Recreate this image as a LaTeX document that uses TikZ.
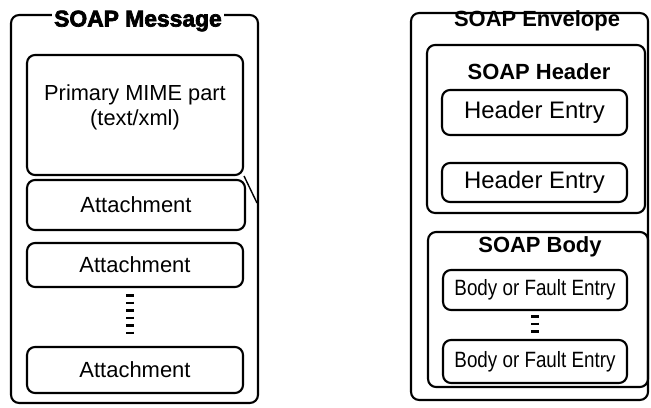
\documentclass[tikz,border=0pt]{standalone}
\usepackage{fontspec}
\setmainfont{Liberation Sans}
\newfontfamily\narrowfont[FakeStretch=0.85]{Liberation Sans}
\newfontfamily\heavyfont[FakeBold=3]{Liberation Sans}
\begin{document}
\begin{tikzpicture}[x=0.02cm,y=-0.02cm,
  box/.style={draw,line width=1.2pt,rounded corners=0.16cm,inner sep=0pt},
  entry/.style={box,font=\fontsize{12.5}{14}\selectfont},
  hentry/.style={box,font=\fontsize{13.6}{15}\selectfont,minimum width=3.7cm},
  bentry/.style={box,font=\narrowfont\fontsize{12.6}{15}\selectfont,minimum width=3.68cm},
  hd/.style={font=\fontsize{12.5}{14}\selectfont\bfseries,inner sep=0pt},
  more/.style={line width=0.16cm,dash pattern=on 0.05cm off 0.1cm,shorten <=0.12cm,shorten >=0.22cm}]
\useasboundingbox (0,0) rectangle (651,408);
\node[box,minimum width=4.94cm,minimum height=7.76cm] (msg) at (134.5,209) {};
\node[fill=white,inner sep=1pt,font=\heavyfont\fontsize{13}{14}\selectfont\bfseries] (msgtitle) at (138,21) {SOAP Message};
\node[entry,minimum width=4.32cm,minimum height=2.4cm] (mime) at (135,115) {};
\node[align=center,font=\fontsize{12.4}{14.5}\selectfont] (mimetext) at ([yshift=0.15cm]mime.center) {Primary MIME part\\(text/xml)};
\node[entry,minimum width=4.36cm,minimum height=1cm] (att1) at (136,205) {Attachment};
\node[entry,minimum width=4.32cm,minimum height=0.88cm] (att2) at (135,265) {Attachment};
\node[entry,minimum width=4.32cm,minimum height=0.92cm] (att3) at (135,370) {Attachment};
\draw[more] ([xshift=-0.1cm]att2.south) -- ([xshift=-0.1cm]att3.north);
\coordinate (bend) at (257,203);
\draw[line width=0.8pt] (mime.south east) -- (bend);
\node[box,minimum width=4.74cm,minimum height=7.74cm] (env) at (529.5,206.5) {};
\node[hd] (envtitle) at (537,21) {SOAP Envelope};
\node[box,minimum width=4.36cm,minimum height=3.36cm] (header) at (536,129) {};
\node[hd] (headertitle) at (539,72) {SOAP Header};
\node[hentry,minimum height=0.9cm] (he1) at (534.5,112.5) {Header Entry};
\node[hentry,minimum height=0.78cm] (he2) at (534.5,182.5) {Header Entry};
\node[box,minimum width=4.4cm,minimum height=3.1cm] (body) at (538,309.5) {};
\node[hd] (bodytitle) at (540,247) {SOAP Body};
\node[bentry,minimum height=0.8cm] (be1) at (535,290) {Body or Fault Entry};
\node[bentry,minimum height=0.86cm] (be2) at (535,361.5) {Body or Fault Entry};
\draw[more,shorten <=0.08cm,shorten >=0.1cm] (be1.south) -- (be2.north);
\end{tikzpicture}
\end{document}
